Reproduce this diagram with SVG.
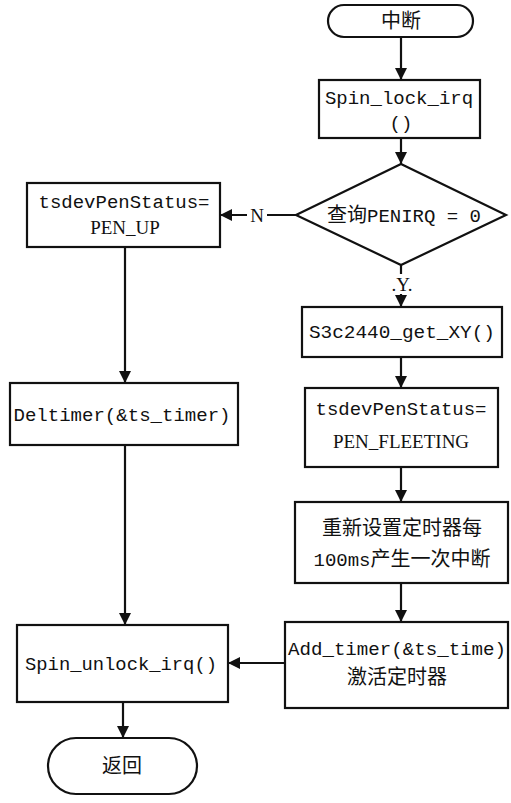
<svg xmlns="http://www.w3.org/2000/svg" width="511" height="803" viewBox="0 0 511 803">
  <style>
    .shape { fill: #ffffff; stroke: #111111; stroke-width: 2.2; }
    .edge { fill: none; stroke: #111111; stroke-width: 2.2; }
    .code { font-family: "Liberation Mono", "Noto Sans CJK SC", monospace; font-size: 19px; fill: #111111; }
    .cjk { font-family: "Noto Sans CJK SC", "Liberation Mono", sans-serif; font-size: 20px; fill: #111111; }
    .lbl { font-family: "Liberation Serif", serif; font-size: 19px; fill: #111111; }
  </style>
  <defs>
    <marker id="arrow" viewBox="0 0 12 12" refX="12" refY="6" markerWidth="12" markerHeight="12" markerUnits="userSpaceOnUse" orient="auto">
      <path d="M0,0 L12,6 L0,12 Z" fill="#111111"/>
    </marker>
  </defs>

  <!-- connectors -->
  <g id="connectors">
    <line class="edge" x1="401" y1="37" x2="401" y2="80" marker-end="url(#arrow)"/>
    <line class="edge" x1="401" y1="138" x2="401" y2="164" marker-end="url(#arrow)"/>
    <line class="edge" x1="296" y1="215" x2="220" y2="215" marker-end="url(#arrow)"/>
    <line class="edge" x1="401" y1="265" x2="401" y2="307" marker-end="url(#arrow)"/>
    <line class="edge" x1="401" y1="357" x2="401" y2="388" marker-end="url(#arrow)"/>
    <line class="edge" x1="401" y1="467" x2="401" y2="502" marker-end="url(#arrow)"/>
    <line class="edge" x1="401" y1="583" x2="401" y2="622" marker-end="url(#arrow)"/>
    <line class="edge" x1="125" y1="247" x2="125" y2="383" marker-end="url(#arrow)"/>
    <line class="edge" x1="125" y1="445" x2="125" y2="625" marker-end="url(#arrow)"/>
    <line class="edge" x1="285" y1="663" x2="228" y2="663" marker-end="url(#arrow)"/>
    <line class="edge" x1="123" y1="702" x2="123" y2="738" marker-end="url(#arrow)"/>
    <rect x="247" y="205" width="20" height="20" fill="#ffffff"/>
    <text class="lbl" x="257" y="222" text-anchor="middle">N</text>
    <rect x="392" y="274" width="20" height="20" fill="#ffffff"/>
    <text class="lbl" x="402" y="291" text-anchor="middle">.Y.</text>
  </g>

  <g id="start">
    <rect class="shape" x="328" y="5" width="145" height="32" rx="16" ry="16"/>
    <text class="cjk" x="401" y="28" text-anchor="middle">中断</text>
  </g>

  <g id="lock">
    <rect class="shape" x="319" y="80" width="161" height="58"/>
    <text class="code" x="399" y="104" text-anchor="middle">Spin_lock_irq</text>
    <text class="code" x="401" y="129" text-anchor="middle">()</text>
  </g>

  <g id="check">
    <polygon class="shape" points="401,164 506,215 401,265 296,215"/>
    <text class="cjk" x="404" y="222" text-anchor="middle">查询<tspan class="code" font-size="20">PENIRQ = 0</tspan></text>
  </g>

  <g id="pen-up">
    <rect class="shape" x="27" y="183" width="193" height="64"/>
    <text class="code" x="124" y="208" text-anchor="middle">tsdevPenStatus=</text>
    <text class="lbl" x="125" y="234" text-anchor="middle">PEN_UP</text>
  </g>

  <g id="get-xy">
    <rect class="shape" x="302" y="307" width="200" height="50"/>
    <text class="code" x="402" y="338" text-anchor="middle" textLength="186" lengthAdjust="spacingAndGlyphs">S3c2440_get_XY()</text>
  </g>

  <g id="pen-fleeting">
    <rect class="shape" x="305" y="388" width="193" height="79"/>
    <text class="code" x="401" y="415" text-anchor="middle">tsdevPenStatus=</text>
    <text class="lbl" x="401" y="448" text-anchor="middle">PEN_FLEETING</text>
  </g>

  <g id="reset-timer">
    <rect class="shape" x="295" y="502" width="213" height="81"/>
    <text class="cjk" x="402" y="535" text-anchor="middle" font-size="22">重新设置定时器每</text>
    <text class="cjk" x="402" y="566" text-anchor="middle" font-size="22"><tspan class="code" font-size="20">100ms</tspan>产生一次中断</text>
  </g>

  <g id="add-timer">
    <rect class="shape" x="285" y="622" width="223" height="86"/>
    <text class="code" x="397" y="655" text-anchor="middle" textLength="218" lengthAdjust="spacingAndGlyphs">Add_timer(&amp;ts_time)</text>
    <text class="cjk" x="397" y="684" text-anchor="middle">激活定时器</text>
  </g>

  <g id="deltimer">
    <rect class="shape" x="10" y="383" width="228" height="62"/>
    <text class="code" x="122" y="421" text-anchor="middle" textLength="217" lengthAdjust="spacingAndGlyphs">Deltimer(&amp;ts_timer)</text>
  </g>

  <g id="unlock">
    <rect class="shape" x="17" y="625" width="211" height="77"/>
    <text class="code" x="121" y="670" text-anchor="middle" textLength="192" lengthAdjust="spacingAndGlyphs">Spin_unlock_irq()</text>
  </g>

  <g id="end">
    <rect class="shape" x="48" y="738" width="149" height="56" rx="28" ry="28"/>
    <text class="cjk" x="122" y="773" text-anchor="middle">返回</text>
  </g>
</svg>
